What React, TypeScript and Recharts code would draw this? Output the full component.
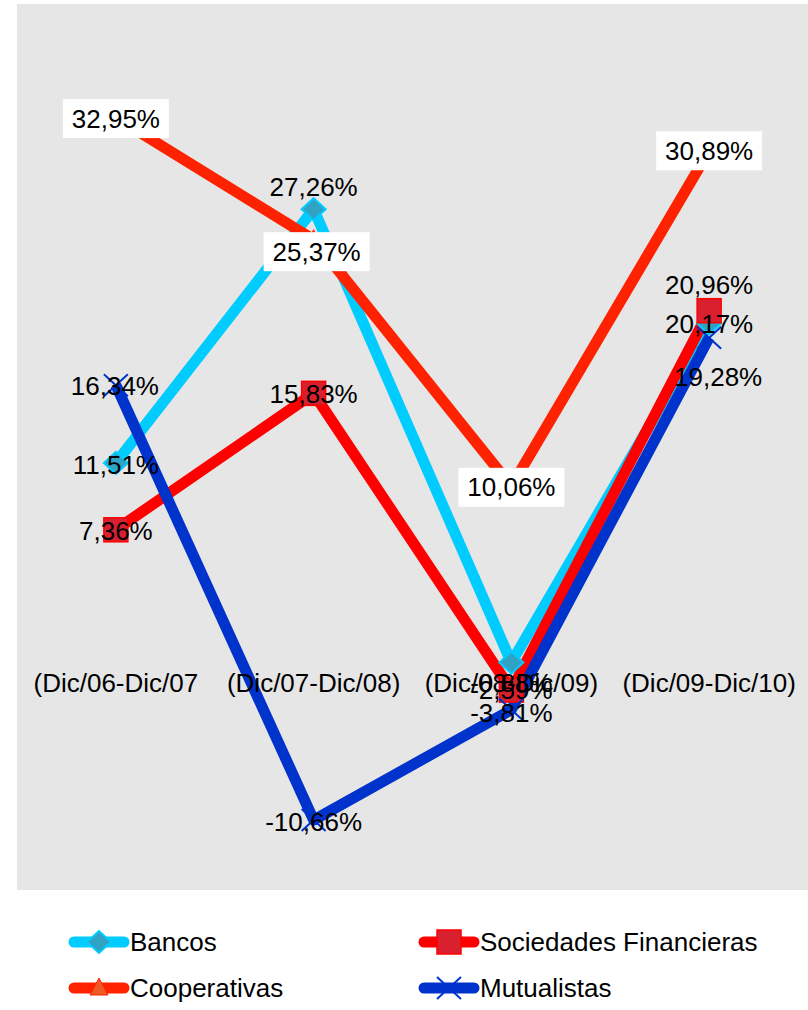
import React from 'react';
import { LineChart, Line, XAxis, YAxis, CartesianGrid, LabelList, ReferenceDot, Legend } from 'recharts';

const categories = ['(Dic/06-Dic/07', '(Dic/07-Dic/08)', '(Dic/08-Dic/09)', '(Dic/09-Dic/10)'];
const bancos = [11.51, 27.26, -0.88, 20.17];
const sociedades = [7.36, 15.83, -2.59, 20.96];
const cooperativas = [32.95, 25.37, 10.06, 30.89];
const mutualistas = [16.34, -10.66, -3.81, 19.28];
const seriesNames = ['Bancos', 'Sociedades Financieras', 'Cooperativas', 'Mutualistas'];

const data = categories.map((cat, i) => ({
  cat,
  bancos: bancos[i],
  sociedades: sociedades[i],
  cooperativas: cooperativas[i],
  mutualistas: mutualistas[i],
}));

const FONT = '"Liberation Sans", Arial, sans-serif';
const fmt = (v: number) => v.toFixed(2).replace('.', ',') + '%';

const C_BANCOS = '#00CCFF';
const C_SOC = '#FF0000';
const C_COOP = '#FF2200';
const C_MUT = '#0033CC';

function Diamond({ cx, cy }: any) {
  return (
    <polygon
      points={`${cx - 12},${cy} ${cx},${cy - 11} ${cx + 12},${cy} ${cx},${cy + 11}`}
      fill="#30A2C4"
      stroke={C_BANCOS}
      strokeWidth={2}
    />
  );
}
function Square({ cx, cy }: any) {
  return <rect x={cx - 12} y={cy - 12} width={24} height={24} fill="#D8202F" stroke={C_SOC} strokeWidth={1.5} />;
}
function Triangle({ cx, cy }: any) {
  return (
    <polygon
      points={`${cx},${cy - 10} ${cx + 9},${cy + 7} ${cx - 9},${cy + 7}`}
      fill="#EE5A24"
      stroke={C_COOP}
      strokeWidth={1}
    />
  );
}
function Cross({ cx, cy }: any) {
  return (
    <g stroke={C_MUT} strokeWidth={2}>
      <line x1={cx - 12} y1={cy - 11} x2={cx + 12} y2={cy + 11} />
      <line x1={cx - 12} y1={cy + 11} x2={cx + 12} y2={cy - 11} />
    </g>
  );
}

const dotOf = (Comp: any, prefix: string) => (p: any) =>
  p.cx == null || p.cy == null ? <g key={`${prefix}-${p.index}`} /> : <Comp key={`${prefix}-${p.index}`} cx={p.cx} cy={p.cy} />;

const makeLabel = (offsets: number[][], boxed: boolean) => (props: any) => {
  const { x, y, value, index } = props;
  const [dx, dy] = offsets[index] || [0, 0];
  const cx = Number(x) + dx;
  const cy = Number(y) + dy;
  return (
    <g key={`lbl-${index}`}>
      {boxed && <rect x={cx - 53} y={cy - 19.5} width={106} height={39} fill="#FFFFFF" />}
      <text
        x={cx}
        y={cy}
        textAnchor="middle"
        dominantBaseline="central"
        fontFamily={FONT}
        fontSize={26}
        fill="#000000"
      >
        {fmt(Number(value))}
      </text>
    </g>
  );
};

const labelOffsets = {
  bancos: [[0, 2], [0, -22], [0, 20], [0, 1]],
  sociedades: [[0, 1], [0, 1], [0, 0], [0, -26]],
  cooperativas: [[0, 1], [3, 12], [0, 1], [0, 0]],
  mutualistas: [[-1, 1], [0, 2], [0, 3], [9, 39]],
};

const legendItems = [
  { name: seriesNames[0], color: C_BANCOS, Marker: Diamond, left: 68, top: 52 },
  { name: seriesNames[1], color: C_SOC, Marker: Square, left: 418, top: 52 },
  { name: seriesNames[2], color: C_COOP, Marker: Triangle, left: 68, top: 98 },
  { name: seriesNames[3], color: C_MUT, Marker: Cross, left: 418, top: 98 },
];

function LegendContent() {
  return (
    <div style={{ position: 'relative', width: 808, height: 120 }}>
      {legendItems.map((it) => (
        <div
          key={it.name}
          style={{ position: 'absolute', left: it.left, top: it.top - 15, height: 30, display: 'flex', alignItems: 'center' }}
        >
          <svg width={62} height={30} style={{ display: 'block' }}>
            <line x1={6} y1={15} x2={56} y2={15} stroke={it.color} strokeWidth={11} strokeLinecap="round" />
            <it.Marker cx={31} cy={15} />
          </svg>
          <span style={{ fontFamily: FONT, fontSize: 26, color: '#000', lineHeight: '30px', whiteSpace: 'nowrap' }}>
            {it.name}
          </span>
        </div>
      ))}
    </div>
  );
}

export default function App() {
  return (
    <div style={{ position: 'absolute', left: 0, top: 0, width: 808, height: 1010, background: '#FFFFFF' }}>
      <LineChart width={808} height={1010} data={data} margin={{ top: 4, right: 0, left: 17, bottom: 0 }}>
        <CartesianGrid fill="#E6E6E6" stroke="none" horizontal={false} vertical={false} />
        <XAxis dataKey="cat" hide padding={{ left: 98.875, right: 98.875 }} />
        <YAxis hide type="number" domain={[-15, 40]} allowDataOverflow />
        {categories.map((c) => (
          <ReferenceDot
            key={c}
            x={c}
            y={0}
            r={0}
            fill="none"
            stroke="none"
            label={{ value: c, position: 'bottom', offset: 25, fill: '#000', fontSize: 26, fontFamily: FONT }}
          />
        ))}
        <Line dataKey="bancos" name={seriesNames[0]} stroke={C_BANCOS} strokeWidth={11} strokeLinejoin="round"
          dot={dotOf(Diamond, 'b')} activeDot={false} isAnimationActive={false} />
        <Line dataKey="sociedades" name={seriesNames[1]} stroke={C_SOC} strokeWidth={11} strokeLinejoin="round"
          dot={dotOf(Square, 's')} activeDot={false} isAnimationActive={false} />
        <Line dataKey="cooperativas" name={seriesNames[2]} stroke={C_COOP} strokeWidth={11} strokeLinejoin="round"
          dot={dotOf(Triangle, 'c')} activeDot={false} isAnimationActive={false} />
        <Line dataKey="mutualistas" name={seriesNames[3]} stroke={C_MUT} strokeWidth={11} strokeLinejoin="round"
          dot={dotOf(Cross, 'm')} activeDot={false} isAnimationActive={false} />

        <Line dataKey="bancos" stroke="none" dot={false} activeDot={false} legendType="none" isAnimationActive={false}>
          <LabelList dataKey="bancos" content={makeLabel(labelOffsets.bancos, false)} />
        </Line>
        <Line dataKey="sociedades" stroke="none" dot={false} activeDot={false} legendType="none" isAnimationActive={false}>
          <LabelList dataKey="sociedades" content={makeLabel(labelOffsets.sociedades, false)} />
        </Line>
        <Line dataKey="cooperativas" stroke="none" dot={false} activeDot={false} legendType="none" isAnimationActive={false}>
          <LabelList dataKey="cooperativas" content={makeLabel(labelOffsets.cooperativas, true)} />
        </Line>
        <Line dataKey="mutualistas" stroke="none" dot={false} activeDot={false} legendType="none" isAnimationActive={false}>
          <LabelList dataKey="mutualistas" content={makeLabel(labelOffsets.mutualistas, false)} />
        </Line>

        <Legend
          verticalAlign="bottom"
          width={808}
          height={120}
          wrapperStyle={{ left: 0, bottom: 0, width: 808, height: 120 }}
          content={<LegendContent />}
        />
      </LineChart>
    </div>
  );
}
